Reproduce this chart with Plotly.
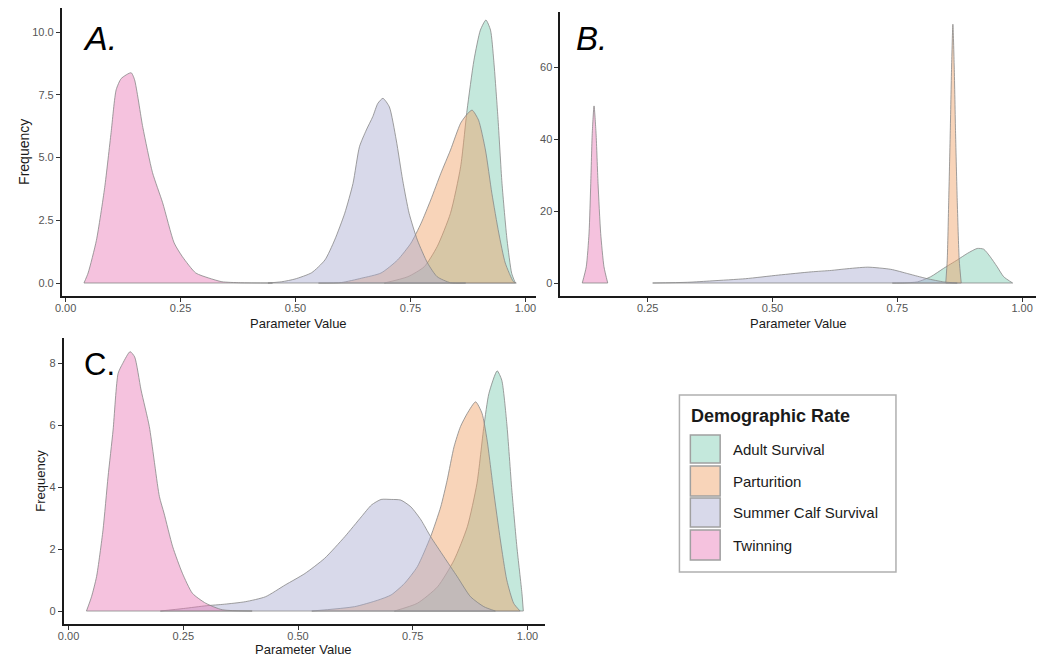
import plotly.graph_objects as go

W, H = 1038, 660

# ---- density curves (parameter value, frequency) per panel ----
series_names = ["Adult Survival", "Parturition", "Summer Calf Survival", "Twinning"]
series_colors = ["124,204,177", "239,159,99", "168,171,208", "233,119,182"]

# Panel A
a_adult_x = [0.693, 0.744, 0.780, 0.808, 0.837, 0.859, 0.873, 0.888, 0.902, 0.914, 0.924, 0.931, 0.940, 0.949, 0.960, 0.970, 0.978]
a_adult_y = [0.0, 0.25, 0.65, 1.45, 2.78, 4.63, 6.89, 8.88, 10.08, 10.48, 10.08, 8.88, 6.63, 3.97, 1.71, 0.39, 0.0]
a_part_x = [0.55, 0.60, 0.643, 0.686, 0.722, 0.751, 0.773, 0.794, 0.816, 0.837, 0.859, 0.874, 0.884, 0.898, 0.913, 0.927, 0.942, 0.956, 0.974, 0.98]
a_part_y = [0.0, 0.02, 0.19, 0.40, 0.92, 1.59, 2.38, 3.31, 4.37, 5.30, 6.37, 6.75, 6.89, 6.49, 5.30, 3.57, 1.99, 0.80, 0.05, 0.0]
a_calf_x = [0.44, 0.47, 0.499, 0.535, 0.564, 0.585, 0.607, 0.625, 0.639, 0.654, 0.668, 0.679, 0.690, 0.704, 0.719, 0.733, 0.747, 0.765, 0.787, 0.808, 0.837, 0.87]
a_calf_y = [0.0, 0.05, 0.16, 0.41, 0.92, 1.71, 2.78, 3.97, 5.43, 6.10, 6.63, 7.16, 7.36, 7.02, 5.70, 4.10, 2.78, 1.71, 0.80, 0.25, 0.01, 0.0]
a_twin_x = [0.040, 0.049, 0.067, 0.085, 0.099, 0.110, 0.121, 0.1425, 0.150, 0.168, 0.189, 0.211, 0.236, 0.254, 0.283, 0.311, 0.34, 0.38, 0.45]
a_twin_y = [0.0, 0.4, 1.7, 3.8, 6.0, 7.7, 8.15, 8.38, 8.1, 6.2, 4.4, 3.2, 1.6, 1.05, 0.4, 0.2, 0.05, 0.01, 0.0]

# Panel B
b_adult_x = [0.74, 0.764, 0.790, 0.817, 0.843, 0.870, 0.890, 0.910, 0.923, 0.936, 0.950, 0.963, 0.981]
b_adult_y = [0.0, 0.05, 0.3, 1.75, 4.1, 6.4, 8.2, 9.6, 9.4, 7.3, 4.5, 1.75, 0.0]
b_part_x = [0.847, 0.850, 0.853, 0.856, 0.8587, 0.8613, 0.864, 0.8667, 0.870, 0.874, 0.878]
b_part_y = [0.0, 6.4, 23.0, 41.6, 60.0, 71.9, 60.0, 41.6, 23.0, 6.4, 0.0]
b_calf_x = [0.26, 0.33, 0.379, 0.446, 0.512, 0.578, 0.618, 0.645, 0.691, 0.737, 0.771, 0.790, 0.810, 0.843, 0.87]
b_calf_y = [0.0, 0.2, 0.6, 1.2, 2.2, 3.1, 3.5, 3.9, 4.4, 3.8, 2.6, 1.9, 1.2, 0.3, 0.0]
b_twin_x = [0.119, 0.127, 0.1326, 0.136, 0.139, 0.1426, 0.1466, 0.1506, 0.1559, 0.1625, 0.170]
b_twin_y = [0.0, 4.5, 13.9, 27.7, 41.6, 49.2, 41.6, 27.7, 13.8, 4.5, 0.0]

# Panel C
c_adult_x = [0.71, 0.76, 0.804, 0.840, 0.869, 0.890, 0.905, 0.916, 0.934, 0.944, 0.955, 0.966, 0.977, 0.988, 0.991]
c_adult_y = [0.0, 0.25, 0.78, 1.64, 2.72, 4.12, 5.95, 7.02, 7.75, 7.45, 6.05, 3.90, 2.07, 0.57, 0.0]
c_part_x = [0.53, 0.623, 0.674, 0.703, 0.732, 0.760, 0.789, 0.811, 0.825, 0.840, 0.854, 0.869, 0.887, 0.901, 0.912, 0.926, 0.941, 0.955, 0.970, 0.984]
c_part_y = [0.0, 0.14, 0.35, 0.52, 0.89, 1.43, 2.40, 3.36, 4.22, 5.30, 5.95, 6.38, 6.75, 6.38, 5.52, 3.90, 2.29, 1.00, 0.25, 0.0]
c_calf_x = [0.20, 0.25, 0.30, 0.34, 0.385, 0.429, 0.472, 0.515, 0.558, 0.602, 0.638, 0.660, 0.681, 0.703, 0.724, 0.746, 0.768, 0.789, 0.818, 0.847, 0.876, 0.905, 0.93]
c_calf_y = [0.0, 0.08, 0.17, 0.22, 0.30, 0.46, 0.84, 1.21, 1.70, 2.40, 3.04, 3.42, 3.60, 3.60, 3.58, 3.36, 2.94, 2.40, 1.75, 1.11, 0.46, 0.14, 0.0]
c_twin_x = [0.039, 0.050, 0.061, 0.075, 0.086, 0.097, 0.108, 0.118, 0.134, 0.144, 0.158, 0.176, 0.198, 0.208, 0.227, 0.248, 0.27, 0.299, 0.335, 0.40]
c_twin_y = [0.0, 0.46, 1.11, 2.61, 4.33, 5.84, 7.67, 7.99, 8.37, 8.2, 7.13, 5.95, 3.69, 3.16, 2.07, 1.22, 0.57, 0.25, 0.04, 0.0]

panels = {
    "A": [(a_adult_x, a_adult_y), (a_part_x, a_part_y), (a_calf_x, a_calf_y), (a_twin_x, a_twin_y)],
    "B": [(b_adult_x, b_adult_y), (b_part_x, b_part_y), (b_calf_x, b_calf_y), (b_twin_x, b_twin_y)],
    "C": [(c_adult_x, c_adult_y), (c_part_x, c_part_y), (c_calf_x, c_calf_y), (c_twin_x, c_twin_y)],
}

x_ticks = [0.0, 0.25, 0.5, 0.75, 1.0]
a_y_ticks = [0.0, 2.5, 5.0, 7.5, 10.0]
b_y_ticks = [0, 20, 40, 60]
c_y_ticks = [0, 2, 4, 6, 8]

FILL_ALPHA = 0.45
OUTLINE = "rgba(135,135,135,0.8)"
FONT = "Liberation Sans, Arial, sans-serif"


def px_x(p):
    return p / W


def px_y(p):
    return 1 - p / H


fig = go.Figure()

axis_ids = {"A": ("x", "y"), "B": ("x2", "y2"), "C": ("x3", "y3")}

for key, curves in panels.items():
    xa, ya = axis_ids[key]
    for name, col, (xs, ys) in zip(series_names, series_colors, curves):
        fig.add_trace(go.Scatter(
            x=xs, y=ys, xaxis=xa, yaxis=ya, mode="lines",
            line=dict(color=OUTLINE, width=1, shape="spline", smoothing=0.6),
            fill="tozeroy", fillcolor=f"rgba({col},{FILL_ALPHA})",
            name=name, showlegend=False, hoverinfo="skip"))
        # outline along the baseline
        fig.add_trace(go.Scatter(
            x=[xs[0], xs[-1]], y=[0, 0], xaxis=xa, yaxis=ya, mode="lines",
            line=dict(color=OUTLINE, width=1), showlegend=False, hoverinfo="skip"))

axis_common = dict(
    showgrid=False, zeroline=False, showline=True, linecolor="#1a1a1a", linewidth=1.5,
    ticks="outside", ticklen=4, tickwidth=1, tickcolor="#333333",
    tickfont=dict(family=FONT, size=11, color="#555555"),
)
x_common = dict(ticklabelstandoff=-3, **axis_common)

fig.update_layout(
    width=W, height=H, margin=dict(l=0, r=0, t=0, b=0),
    paper_bgcolor="white", plot_bgcolor="white", showlegend=False,
    xaxis=dict(domain=[px_x(55), px_x(533)], range=[-0.0086, 1.0238], anchor="y",
               tickvals=x_ticks, tickformat=".2f", **x_common),
    yaxis=dict(domain=[px_y(296), px_y(8)], range=[-0.518, 10.96], anchor="x",
               tickvals=a_y_ticks, tickformat=".1f", **axis_common),
    xaxis2=dict(domain=[px_x(557), px_x(1036)], range=[0.0749, 1.0278], anchor="y2",
                tickvals=x_ticks, tickformat=".2f", **x_common),
    yaxis2=dict(domain=[px_y(296), px_y(12)], range=[-3.61, 75.3], anchor="x2",
                tickvals=b_y_ticks, tickformat="d", **axis_common),
    xaxis3=dict(domain=[px_x(57), px_x(542)], range=[-0.0108, 1.039], anchor="y3",
                tickvals=x_ticks, tickformat=".2f", **x_common),
    yaxis3=dict(domain=[px_y(624), px_y(338)], range=[-0.419, 8.81], anchor="x3",
                tickvals=c_y_ticks, tickformat="d", **axis_common),
)

annotations = []


def text(x, y, s, size, color="#1a1a1a", xanchor="center", yanchor="middle", angle=0):
    annotations.append(dict(
        x=px_x(x), y=px_y(y), xref="paper", yref="paper", text=s, showarrow=False,
        xanchor=xanchor, yanchor=yanchor, textangle=angle,
        font=dict(family=FONT, size=size, color=color)))


# axis titles
text(293, 323, "Parameter Value", 13)
text(797, 323, "Parameter Value", 13)
text(299, 649, "Parameter Value", 13)
text(17, 152, "Frequency", 14, angle=-90)
text(33, 481, "Frequency", 13, angle=-90)

# panel letters
text(75, 38, "<i>A.</i>", 34, color="black", xanchor="left")
text(571, 38, "<i>B.</i>", 33, color="black", xanchor="left")
text(76, 365, "C.", 31, color="black", xanchor="left")

# legend
shapes = [dict(type="rect", xref="paper", yref="paper",
               x0=px_x(677), x1=px_x(895), y0=px_y(572), y1=px_y(395),
               line=dict(color="#b0b0b0", width=1.5), fillcolor="white", layer="above")]
text(687, 416, "<b>Demographic Rate</b>", 18, xanchor="left")
key_rows = [(435, 463), (466, 496), (498, 527), (530, 560)]
for name, col, (t, b) in zip(series_names, series_colors, key_rows):
    shapes.append(dict(type="rect", xref="paper", yref="paper",
                       x0=px_x(688), x1=px_x(718), y0=px_y(b), y1=px_y(t),
                       line=dict(color="#a0a0a0", width=1.5),
                       fillcolor=f"rgba({col},{FILL_ALPHA})", layer="above"))
    text(729, (t + b) / 2, name, 15, xanchor="left")

fig.update_layout(annotations=annotations, shapes=shapes)

fig.write_html("out.html")
